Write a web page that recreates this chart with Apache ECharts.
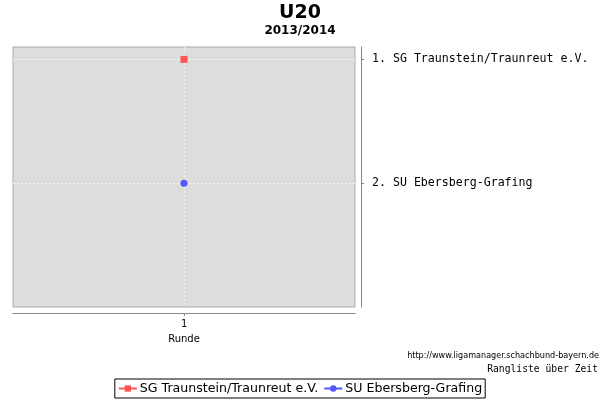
<!DOCTYPE html>
<html><head><meta charset="utf-8">
<script src="https://cdn.jsdelivr.net/npm/echarts@6/dist/echarts.min.js"></script>
<style>html,body{margin:0;padding:0;background:#fff}#c{width:600px;height:400px}</style>
</head><body><div id="c"></div>
<script>
const rounds = [1];
const teams = ['SG Traunstein/Traunreut e.V.', 'SU Ebersberg-Grafing'];
const finalLabels = ['1. SG Traunstein/Traunreut e.V.', '2. SU Ebersberg-Grafing'];
const rankTraunstein = [1];
const rankEbersberg = [2];
const colors = ['#ff5555', '#5555ff'];

const chart = echarts.init(document.getElementById('c'), null, {renderer: 'canvas'});
chart.setOption({
  animation: false,
  backgroundColor: '#ffffff',
  title: [
    {text: 'U20', left: 'center', top: 4, padding: 0, textStyle: {fontFamily: 'DejaVu Sans', fontSize: 19, fontWeight: 'bold', color: '#000'}},
    {text: '2013/2014', left: 'center', top: 25, padding: 0, textStyle: {fontFamily: 'DejaVu Sans', fontSize: 12, fontWeight: 'bold', color: '#000'}},
    {text: 'http://www.ligamanager.schachbund-bayern.de', right: 1, top: 351, padding: 0, textStyle: {fontFamily: 'DejaVu Sans Condensed', fontSize: 9, fontWeight: 'normal', color: '#000'}},
    {text: 'Rangliste über Zeit', right: 2, top: 364, padding: 0, textStyle: {fontFamily: 'DejaVu Sans Mono', fontSize: 9.7, fontWeight: 'normal', color: '#000'}}
  ],
  legend: {
    bottom: 2, left: 'center',
    data: teams,
    borderColor: '#000', borderWidth: 1, borderRadius: 0,
    padding: [3, 3, 3, 3],
    itemGap: 5, itemWidth: 18, itemHeight: 8,
    textStyle: {fontFamily: 'DejaVu Sans', fontSize: 12.6, color: '#000', padding: [0,0,0,-2]}
  },
  grid: {left: 13, right: 245, top: 47, bottom: 93, show: true, backgroundColor: '#dddddd', borderColor: '#aaaaaa', borderWidth: 1},
  xAxis: {
    type: 'value', min: 0.5, max: 1.5,
    name: 'Runde', nameLocation: 'middle', nameGap: 21,
    nameTextStyle: {fontFamily: 'DejaVu Sans', fontSize: 10, color: '#000'},
    offset: 6,
    axisLine: {show: true, lineStyle: {color: '#888888'}},
    axisTick: {show: true, customValues: rounds, length: 3, lineStyle: {color: '#888888'}},
    axisLabel: {customValues: rounds, fontFamily: 'DejaVu Sans Mono', fontSize: 10, color: '#000', margin: 6},
    splitLine: {show: true, lineStyle: {color: '#f4f4f4', type: [2, 2], width: 1}}
  },
  yAxis: {
    type: 'value', position: 'right', inverse: true, min: 0.9, max: 3.0,
    offset: 6,
    axisLine: {show: true, lineStyle: {color: '#888888'}},
    axisTick: {show: true, customValues: [1, 2], length: 3, inside: false, lineStyle: {color: '#888888'}},
    axisLabel: {customValues: [1, 2], formatter: v => finalLabels[v - 1] || '', fontFamily: 'DejaVu Sans Mono', fontSize: 11.6, color: '#000', margin: 11},
    splitLine: {show: true, lineStyle: {color: '#f4f4f4', type: [2, 2], width: 1}}
  },
  series: [
    {name: teams[0], type: 'line', data: rounds.map((r, i) => [r, rankTraunstein[i]]), symbol: 'rect', symbolSize: 7, color: colors[0], lineStyle: {color: colors[0], width: 1}, itemStyle: {color: colors[0]}},
    {name: teams[1], type: 'line', data: rounds.map((r, i) => [r, rankEbersberg[i]]), symbol: 'circle', symbolSize: 7, color: colors[1], lineStyle: {color: colors[1], width: 1}, itemStyle: {color: colors[1]}}
  ]
});
</script></body></html>
